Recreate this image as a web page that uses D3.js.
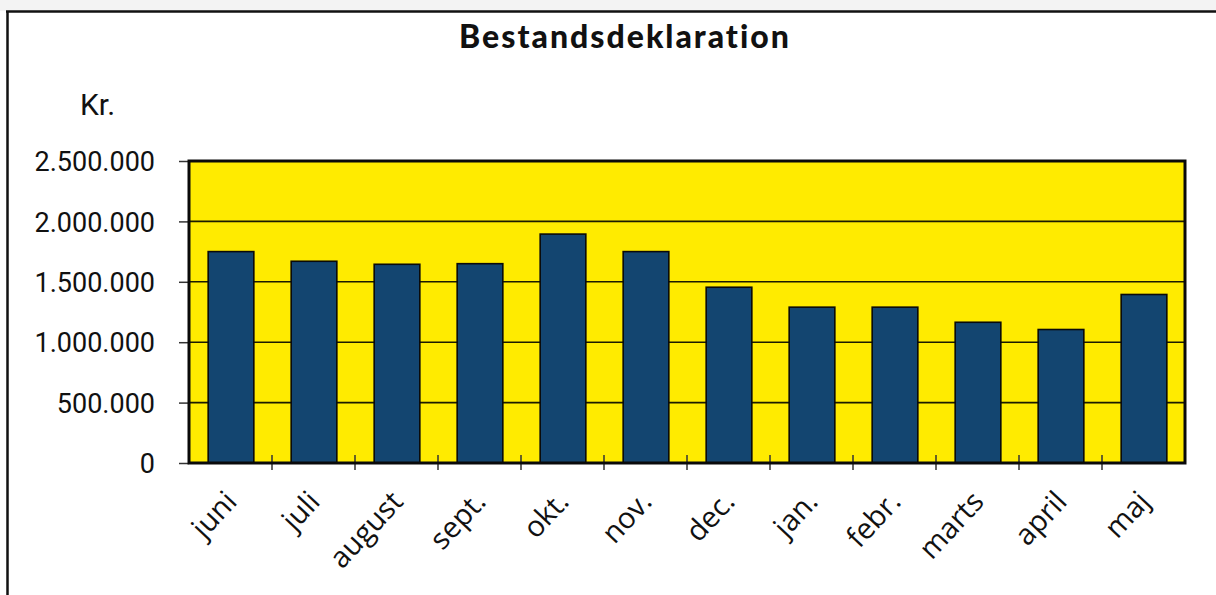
<!DOCTYPE html>
<html>
<head>
<meta charset="utf-8">
<script src="https://cdn.jsdelivr.net/npm/d3@7"></script>
<style>
  body { margin: 0; background: #fff; }
  svg { display: block; }
</style>
</head>
<body>
<svg width="1216" height="595"></svg>
<script>
// data
var months = ["juni", "juli", "august", "sept.", "okt.", "nov.", "dec.", "jan.", "febr.", "marts", "april", "maj"];
var values = [1750000, 1670000, 1645000, 1650000, 1895000, 1750000, 1455000, 1290000, 1290000, 1165000, 1105000, 1395000];
var yTicks = [0, 500000, 1000000, 1500000, 2000000, 2500000];

var svg = d3.select("svg"),
  margin = { top: 161, right: 31, bottom: 132, left: 189 },
  width = +svg.attr("width") - margin.left - margin.right,
  height = +svg.attr("height") - margin.top - margin.bottom;

// frame of the sheet
svg.append("rect").attr("x", 0).attr("y", 0).attr("width", 1216).attr("height", 11).attr("fill", "#f3f3f3");
svg.append("line").attr("x1", 6).attr("x2", 1216).attr("y1", 11.5).attr("y2", 11.5)
  .attr("stroke", "#111").attr("stroke-width", 2.5);
svg.append("line").attr("x1", 7.5).attr("x2", 7.5).attr("y1", 11).attr("y2", 595)
  .attr("stroke", "#111").attr("stroke-width", 2.5);

// title + unit
svg.append("text")
  .attr("x", 625).attr("y", 48)
  .attr("text-anchor", "middle")
  .style("font-family", "Lato, 'Open Sans', sans-serif")
  .style("font-weight", "900")
  .style("font-size", "32px")
  .style("letter-spacing", "2px")
  .attr("fill", "#111")
  .text("Bestandsdeklaration");

svg.append("text")
  .attr("x", 80).attr("y", 115)
  .style("font-family", "Roboto, sans-serif")
  .style("font-size", "30px")
  .attr("fill", "#111")
  .text("Kr.");

var g = svg.append("g").attr("transform", "translate(" + margin.left + "," + margin.top + ")");

var x = d3.scaleBand().domain(months).range([0, width]).padding(0);
var y = d3.scaleLinear().domain([0, 2500000]).range([height, 0]);

var fmt = d3.formatLocale({ decimal: ",", thousands: ".", grouping: [3], currency: ["", " kr."] }).format(",.0f");

// plot background
g.append("rect").attr("width", width).attr("height", height).attr("fill", "#ffeb00");

// gridlines
g.selectAll(".grid")
  .data(yTicks.slice(1, -1))
  .enter()
  .append("line")
  .attr("class", "grid")
  .attr("x1", 0).attr("x2", width)
  .attr("y1", function(d) { return y(d); })
  .attr("y2", function(d) { return y(d); })
  .attr("stroke", "#1a1a00").attr("stroke-width", 1.6);

// y axis
var yAxis = g.append("g")
  .call(d3.axisLeft(y).tickValues(yTicks).tickFormat(fmt).tickSize(10).tickPadding(24));
yAxis.select(".domain").remove();
yAxis.selectAll("line").attr("stroke", "#333").attr("stroke-width", 1.5);
yAxis.selectAll("text")
  .style("font-family", "Roboto, sans-serif")
  .style("font-size", "27px")
  .attr("fill", "#111")
  .attr("dy", "0.36em");

// bars
var barW = x.bandwidth() * 0.55;
g.selectAll(".bar")
  .data(values)
  .enter()
  .append("rect")
  .attr("class", "bar")
  .attr("x", function(d, i) { return x(months[i]) + (x.bandwidth() - barW) / 2 + 0.5; })
  .attr("y", function(d) { return y(d); })
  .attr("width", barW)
  .attr("height", function(d) { return height - y(d); })
  .attr("fill", "#134570")
  .attr("stroke", "#0a0a0a")
  .attr("stroke-width", 1.6);

// x ticks between categories
g.selectAll(".xtick")
  .data(months.slice(1))
  .enter()
  .append("line")
  .attr("class", "xtick")
  .attr("x1", function(d) { return x(d); })
  .attr("x2", function(d) { return x(d); })
  .attr("y1", height - 8).attr("y2", height + 7)
  .attr("stroke", "#333").attr("stroke-width", 1.5);

// plot border
g.append("rect").attr("width", width).attr("height", height)
  .attr("fill", "none").attr("stroke", "#0a0a0a").attr("stroke-width", 3);

// category labels, rotated
g.selectAll(".xlabel")
  .data(months)
  .enter()
  .append("text")
  .attr("class", "xlabel")
  .attr("text-anchor", "end")
  .attr("transform", function(d) {
    return "translate(" + (x(d) + x.bandwidth() / 2 + 8) + "," + (height + 40) + ") rotate(-47)";
  })
  .style("font-family", "'Open Sans', sans-serif")
  .style("font-size", "29px")
  .attr("fill", "#111")
  .text(function(d) { return d; });
</script>
</body>
</html>
